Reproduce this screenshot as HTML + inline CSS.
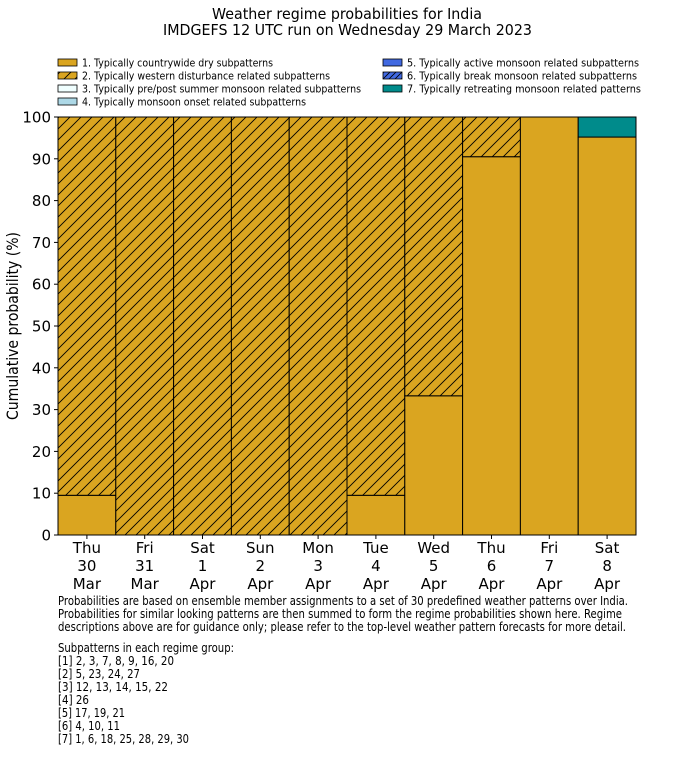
<!DOCTYPE html>
<html><head><meta charset="utf-8"><style>
body{margin:0;background:#fff;font-family:"DejaVu Sans","Liberation Sans",sans-serif}
svg text{font-family:"DejaVu Sans","Liberation Sans",sans-serif}
</style></head><body>
<svg id="chart" width="700" height="754" xmlns="http://www.w3.org/2000/svg">
<defs>
<pattern id="hatch" patternUnits="userSpaceOnUse" width="11" height="11">
<rect width="11" height="11" fill="#DAA520"/>
<path d="M0,11 L11,0 M-2,2 L2,-2 M9,13 L13,9" stroke="#000" stroke-width="0.9"/>
</pattern>
</defs>
<text x="212" y="19" font-size="15" textLength="270" lengthAdjust="spacingAndGlyphs">Weather regime probabilities for India</text>
<text x="163" y="35" font-size="15" textLength="369" lengthAdjust="spacingAndGlyphs">IMDGEFS 12 UTC run on Wednesday 29 March 2023</text>
<g id="legend" font-size="10.5"></g>
<g id="bars"></g>
<g id="axes"></g>
<text transform="translate(18,326) rotate(-90)" x="-94" font-size="16" textLength="188" lengthAdjust="spacingAndGlyphs">Cumulative probability (%)</text>
<g font-size="12">
<text x="58" y="605" textLength="570" lengthAdjust="spacingAndGlyphs">Probabilities are based on ensemble member assignments to a set of 30 predefined weather patterns over India.</text>
<text x="58" y="618" textLength="564" lengthAdjust="spacingAndGlyphs">Probabilities for similar looking patterns are then summed to form the regime probabilities shown here. Regime</text>
<text x="58" y="631" textLength="568" lengthAdjust="spacingAndGlyphs">descriptions above are for guidance only; please refer to the top-level weather pattern forecasts for more detail.</text>
<text x="58" y="652" textLength="176" lengthAdjust="spacingAndGlyphs">Subpatterns in each regime group:</text>
<text x="58" y="665" textLength="116" lengthAdjust="spacingAndGlyphs">[1] 2, 3, 7, 8, 9, 16, 20</text>
<text x="58" y="678" textLength="82" lengthAdjust="spacingAndGlyphs">[2] 5, 23, 24, 27</text>
<text x="58" y="691" textLength="110" lengthAdjust="spacingAndGlyphs">[3] 12, 13, 14, 15, 22</text>
<text x="58" y="704" textLength="31" lengthAdjust="spacingAndGlyphs">[4] 26</text>
<text x="58" y="717" textLength="67" lengthAdjust="spacingAndGlyphs">[5] 17, 19, 21</text>
<text x="58" y="730" textLength="62" lengthAdjust="spacingAndGlyphs">[6] 4, 10, 11</text>
<text x="58" y="743" textLength="131" lengthAdjust="spacingAndGlyphs">[7] 1, 6, 18, 25, 28, 29, 30</text>
</g>
</svg>
<script>
const days=["Thu","Fri","Sat","Sun","Mon","Tue","Wed","Thu","Fri","Sat"];
const dates=["30","31","1","2","3","4","5","6","7","8"];
const months=["Mar","Mar","Apr","Apr","Apr","Apr","Apr","Apr","Apr","Apr"];
const dry=[9.5,0,0,0,0,9.5,33.3,90.5,100,95.2];
const western=[90.5,100,100,100,100,90.5,66.7,9.5,0,0];
const retreating=[0,0,0,0,0,0,0,0,0,4.8];
const yTicks=[0,10,20,30,40,50,60,70,80,90,100];
const legendLabels=["1. Typically countrywide dry subpatterns","2. Typically western disturbance related subpatterns","3. Typically pre/post summer monsoon related subpatterns","4. Typically monsoon onset related subpatterns","5. Typically active monsoon related subpatterns","6. Typically break monsoon related subpatterns","7. Typically retreating monsoon related patterns"];
const legendFills=["#DAA520","url(#hatch)","#F0FFFF","#ADD8E6","#4169E1","hatchblue","#008B8B"];
const legendLens=[191,248,279,224,232,230,234];
const NS="http://www.w3.org/2000/svg";
const X0=58,X1=636,Y0=535,Y1=117;
const bw=(X1-X0)/days.length;
const y=v=>Y0-(v/100)*(Y0-Y1);
const x=i=>X0+i*bw;
function mk(t,a,p){const e=document.createElementNS(NS,t);for(const k in a)e.setAttribute(k,a[k]);p.appendChild(e);return e;}
const defs=document.querySelector('defs');
const pb=mk('pattern',{id:'hatchb',patternUnits:'userSpaceOnUse',width:6,height:6},defs);
mk('rect',{width:6,height:6,fill:'#4169E1'},pb);
mk('path',{d:'M0,6 L6,0 M-1,1 L1,-1 M5,7 L7,5',stroke:'#000','stroke-width':0.8},pb);
const bars=document.getElementById('bars');
const series=[[dry,'#DAA520'],[western,'url(#hatch)'],[retreating,'#008B8B']];
for(let i=0;i<days.length;i++){
  let base=0;
  series.forEach((s,si)=>{
    const v=s[0][i];
    if(v>0){
      const r=mk('rect',{x:x(i),y:y(base+v),width:bw,height:y(base)-y(base+v),fill:s[1],stroke:'#000','stroke-width':1},bars);
      
      
    }
    base+=v;
  });
}
const ax=document.getElementById('axes');
mk('rect',{x:X0,y:Y1,width:X1-X0,height:Y0-Y1,fill:'none',stroke:'#000','stroke-width':1},ax);
yTicks.forEach(t=>{
  mk('line',{x1:X0-4,x2:X0,y1:y(t),y2:y(t),stroke:'#000'},ax);
  const tx=mk('text',{x:X0-7,y:y(t)+5.5,'font-size':15,'text-anchor':'end'},ax);
  tx.textContent=t;
  
  
});
days.forEach((d,i)=>{
  const cx=x(i)+bw/2;
  mk('line',{x1:cx,x2:cx,y1:Y0,y2:Y0+4,stroke:'#000'},ax);
  [d,dates[i],months[i]].forEach((s,k)=>{
    const tx=mk('text',{x:cx,y:553+k*18,'font-size':15,'text-anchor':'middle'},ax);
    tx.textContent=s;
    
    
  });
});
const lg=document.getElementById('legend');
legendLabels.forEach((l,i)=>{
  const col=i<4?0:1,row=i<4?i:i-4;
  const lx=col?383:58,ly=59+row*13;
  const f=legendFills[i]==='hatchblue'?'url(#hatchb)':legendFills[i];
  const r=mk('rect',{x:lx,y:ly,width:19,height:7,fill:f,stroke:'#000','stroke-width':0.8},lg);
  
  
  const t=mk('text',{x:lx+24,y:ly+7.5,textLength:legendLens[i],lengthAdjust:'spacingAndGlyphs'},lg);
  t.textContent=l;
  
  
});
</script>
</body></html>
